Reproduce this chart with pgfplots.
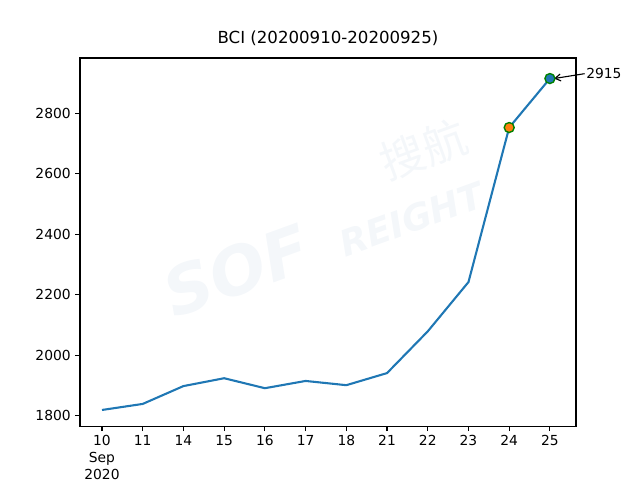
\documentclass[border=0pt]{standalone}
\usepackage{fontspec}
\setmainfont{DejaVu Sans}
\newfontfamily\cjk{Noto Sans CJK SC}
\usepackage{pgfplots}
\pgfplotsset{compat=1.18}
\usetikzlibrary{arrows.meta}
\definecolor{c0}{HTML}{1F77B4}
\definecolor{c1}{HTML}{FF7F0E}
\definecolor{wm}{HTML}{F4F7FA}

\begin{document}
\begin{tikzpicture}[x=1bp,y=1bp]
% page frame: 640x480 px at 0.72bp per px, axis corner at (80,426.3) px
\path (-57.6bp,-38.66bp) rectangle (403.2bp,306.94bp);
\begin{axis}[
  scale only axis, width=357.1bp, height=265.2bp,
  xmin=-0.54, xmax=11.64, ymin=1765, ymax=2983,
  axis line style={line width=0.8bp},
  xtick pos=bottom, ytick pos=left,
  tick align=outside, major tick length=3.5bp,
  tick style={line width=0.8bp, black},
  xtick={0,...,11},
  xticklabels={{10\\Sep\\2020},11,14,15,16,17,18,21,22,23,24,\raisebox{-2bp}{25}},
  xticklabel style={align=center, font=\fontsize{10}{12}\selectfont, inner sep=1pt, yshift=-2bp},
  ytick={1800,2000,2200,2400,2600,2800},
  yticklabel style={font=\fontsize{10}{12}\selectfont, inner sep=1pt, xshift=-2bp},
  /pgf/number format/assume math mode=true,
  /pgf/number format/1000 sep={},
  title={BCI (20200910-20200925)},
  title style={font=\fontsize{12}{14}\selectfont, yshift=-1bp},
  clip=false,
]
\node[wm, rotate=20, font=\cjk\fontsize{32}{32}\selectfont] at (axis cs:7.9,2680) {搜航};
\node[wm, rotate=20, font=\bfseries\itshape\fontsize{26}{26}\selectfont] at (axis cs:7.6,2450) {REIGHT};
\node[wm, rotate=20, font=\bfseries\itshape\fontsize{48}{48}\selectfont] at (axis cs:3.3,2280) {SOF};
\addplot[c0, line width=1.5bp, mark=none] coordinates {
  (0,1819) (1,1839) (2,1898) (3,1924) (4,1891) (5,1915)
  (6,1901) (7,1941) (8,2079) (9,2242) (10,2753) (11,2915)};
\addplot[only marks, mark=*, mark size=3.6bp,
  mark options={fill=c1, draw=green!50!black, line width=1bp}] coordinates {(10,2753)};
\addplot[only marks, mark=*, mark size=3.6bp,
  mark options={fill=c0, draw=green!50!black, line width=1bp}] coordinates {(11,2915)};
\node[anchor=west, font=\fontsize{10}{12}\selectfont, inner sep=1bp] (lab)
  at ([xshift=25bp, yshift=3.5bp]axis cs:11,2915) {2915};
\draw[-{Straight Barb[length=4bp,width=5bp]}, line width=0.8bp]
  (lab.west) -- ([xshift=3bp]axis cs:11,2915);
\end{axis}
\end{tikzpicture}
\end{document}
